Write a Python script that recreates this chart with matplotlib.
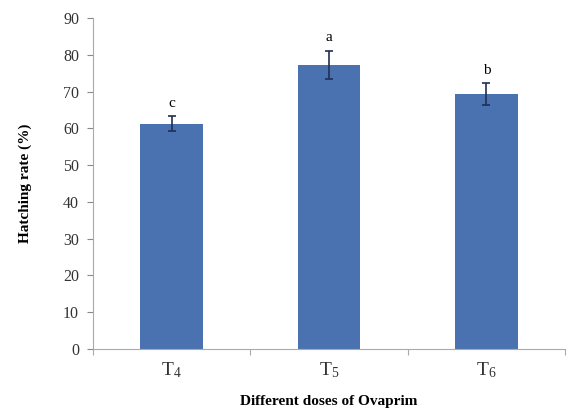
import numpy as np
import matplotlib.pyplot as plt

plt.rcParams['font.family'] = ['Liberation Serif', 'DejaVu Serif']
plt.rcParams['mathtext.fontset'] = 'custom'
plt.rcParams['mathtext.rm'] = 'Liberation Serif'
plt.rcParams['mathtext.it'] = 'Liberation Serif'

# Data
groups = [r'T$_{\mathregular{4}}$', r'T$_{\mathregular{5}}$', r'T$_{\mathregular{6}}$']
hatching = [61.3, 77.3, 69.3]
errors = [2.0, 3.8, 3.0]
letters = ['c', 'a', 'b']

fig = plt.figure(figsize=(5.69, 4.12), dpi=100)
ax = fig.add_axes([0.1634, 0.153, 0.8296, 0.803])

x = np.arange(len(groups))
ax.bar(x, hatching, width=0.4, color='#4a72b0', zorder=2)
ax.errorbar(x, hatching, yerr=errors, fmt='none', ecolor='#1f2f55',
            elinewidth=1.2, capsize=3, capthick=1.2, zorder=3)
for xi, h, e, lab in zip(x, hatching, errors, letters):
    ax.text(xi, h + e + 1.8, lab, ha='center', va='bottom', fontsize=11)

ax.set_xlim(-0.5, len(groups) - 0.5)
ax.set_ylim(0, 90)
ax.set_yticks(np.arange(0, 91, 10))
ax.tick_params(axis='y', labelsize=11.5, colors='#888888', labelcolor='#333333',
               length=4, pad=6)

# category labels centered, tick marks at boundaries
ax.set_xticks(np.arange(-0.5, len(groups), 1.0))
ax.set_xticklabels([])
ax.set_xticks(x, minor=True)
ax.set_xticklabels(groups, minor=True, fontsize=14, color='#333333')
ax.tick_params(axis='x', which='major', length=4, colors='#aaaaaa')
ax.tick_params(axis='x', which='minor', length=0, pad=8)

for s in ['top', 'right']:
    ax.spines[s].set_visible(False)
ax.spines['left'].set_color('#aaaaaa')
ax.spines['bottom'].set_color('#aaaaaa')

ax.set_ylabel('Hatching rate (%)', fontsize=11, fontweight='bold')
ax.yaxis.set_label_coords(-0.13, 0.5)
ax.set_xlabel('Different doses of Ovaprim', fontsize=11, fontweight='bold')
ax.xaxis.set_label_coords(0.5, -0.14)

fig.savefig('out.png', dpi=100)
